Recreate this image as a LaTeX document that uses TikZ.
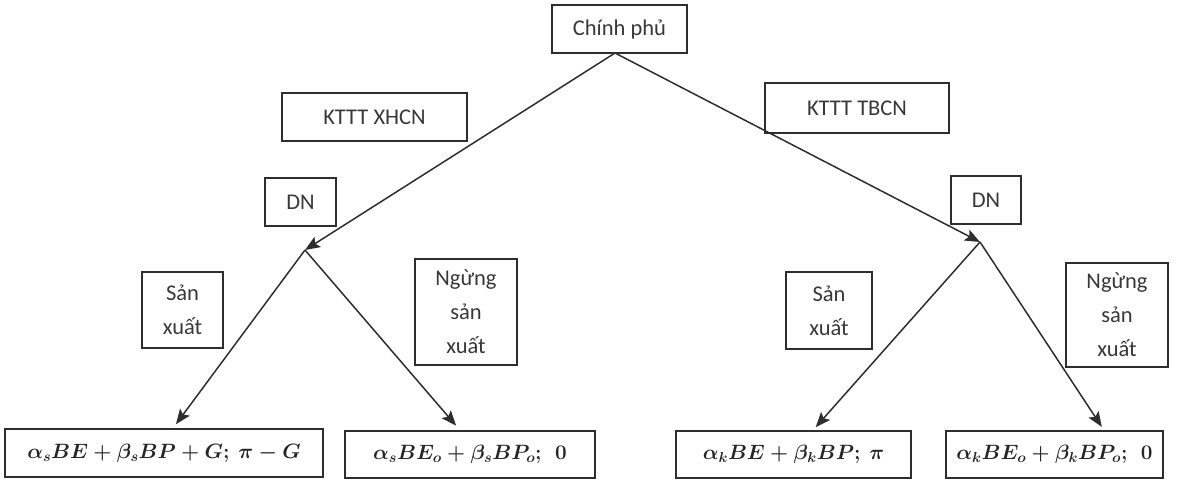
\documentclass[tikz,border=0pt]{standalone}
\usepackage{fontspec}
\setmainfont{Carlito}
\usetikzlibrary{arrows.meta}
\definecolor{ink}{HTML}{2E2E2E}
\definecolor{txt}{HTML}{383838}
\begin{document}
\begin{tikzpicture}[x=1pt,y=-1pt,
  box/.style={draw=ink,line width=1.6pt,inner sep=0pt,align=center,text=txt,
    font=\fontsize{22.5}{34}\selectfont},
  mbox/.style={draw=ink,line width=1.6pt,inner sep=0pt,text=black!85,
    font=\fontsize{21}{26}\selectfont\boldmath},
  conn/.style={draw=ink,line width=1.5pt,-{Stealth[length=15pt,width=12pt,inset=3pt]}}]
\useasboundingbox (0,0) rectangle (1177,480);
\node[box,minimum width=135pt,minimum height=48pt] (gov) at (619.5,29) {Chính phủ};
\node[box,minimum width=185pt,minimum height=48pt] (xhcn) at (374.5,117) {KTTT XHCN};
\node[box,minimum width=184pt,minimum height=50pt] (tbcn) at (857,108) {KTTT TBCN};
\node[box,minimum width=71pt,minimum height=48pt] (dnL) at (300.5,202) {DN};
\node[box,minimum width=70pt,minimum height=48pt] (dnR) at (986,200) {DN};
\node[box,minimum width=81pt,minimum height=76pt] (sxL) at (182.5,310) {Sản\\xuất};
\node[box,minimum width=102pt,minimum height=106pt] (nsxL) at (466,312) {Ngừng\\sản\\xuất};
\node[box,minimum width=86pt,minimum height=77pt] (sxR) at (829,310.5) {Sản\\xuất};
\node[box,minimum width=102pt,minimum height=104pt] (nsxR) at (1117,315) {Ngừng\\sản\\xuất};
\node[mbox,minimum width=318pt,minimum height=48pt] (b1) at (164,453) {$\alpha_s BE+\beta_s BP+G;\ \pi-G$};
\node[mbox,minimum width=250pt,minimum height=47pt] (b2) at (470,454.5) {$\alpha_s BE_o+\beta_s BP_o;\ \ 0$};
\node[mbox,minimum width=235pt,minimum height=47pt] (b3) at (793.5,454.5) {$\alpha_k BE+\beta_k BP;\ \pi$};
\node[mbox,minimum width=217pt,minimum height=47pt] (b4) at (1054.5,454.5) {$\alpha_k BE_o+\beta_k BP_o;\ \ 0$};
\coordinate (jL) at (305,250);
\coordinate (jR) at (980,242);
\coordinate (apex) at (615,53);
\draw[conn] (apex) -- (jL);
\draw[conn] (apex) -- (jR);
\draw[conn,shorten >=5pt] (jL) -- ([xshift=9pt]b1.north);
\draw[conn,shorten >=6pt] (jL) -- ([xshift=-10pt]b2.north);
\draw[conn,shorten >=4pt] (jR) -- ([xshift=19.5pt]b3.north);
\draw[conn,shorten >=4pt] (jR) -- ([xshift=49.5pt]b4.north);
\end{tikzpicture}
\end{document}
